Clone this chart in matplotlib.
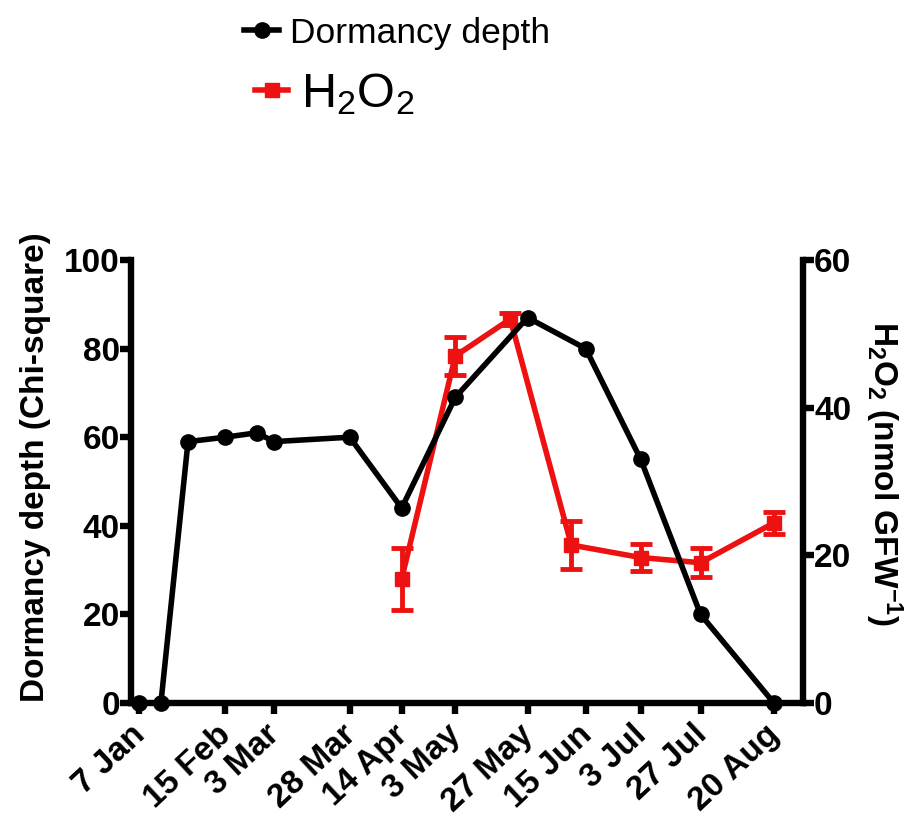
import matplotlib
matplotlib.use("Agg")
import matplotlib.pyplot as plt
from matplotlib.lines import Line2D
from matplotlib.transforms import ScaledTranslation

plt.rcParams['font.family'] = ['Liberation Sans', 'DejaVu Sans']
plt.rcParams['mathtext.default'] = 'regular'

# X axis positions (sampling date scale as drawn) and labels
tick_pos = [7, 37.6, 54.8, 81.7, 100.1, 119.1, 144.7, 165.3, 184.8, 206.0, 232]
tick_labels = ["7 Jan", "15 Feb", "3 Mar", "28 Mar", "14 Apr", "3 May",
               "27 May", "15 Jun", "3 Jul", "27 Jul", "20 Aug"]

# Dormancy depth (Chi-square)
dorm_x = [7, 14.8, 24.4, 37.6, 48.8, 54.8, 81.7, 100.1, 119.1, 144.7, 165.3, 184.8, 206.0, 232]
dorm_y = [0, 0, 59, 60, 61, 59, 60, 44, 69, 87, 80, 55, 20, 0]

# H2O2 (nmol GFW-1)
h2o2_x = [100.1, 119.1, 138.6, 160.2, 184.8, 206.0, 232]
h2o2_y = [16.8, 47.0, 52.0, 21.4, 19.7, 19.0, 24.4]
h2o2_err = [4.2, 2.6, 0.8, 3.2, 1.8, 2.0, 1.5]

red = '#ee1111'
lw_sp = 4.6
lw_line = 4.0

fig = plt.figure(figsize=(9.13, 8.16), dpi=100)
ax = fig.add_axes([131/913, 1-703/816, (803-131)/913, (703-260)/816])
ax2 = ax.twinx()

ax.plot(dorm_x, dorm_y, color='black', lw=lw_line, marker='o', ms=11, zorder=3,
        clip_on=False)
ax2.errorbar(h2o2_x, h2o2_y, yerr=h2o2_err, color=red, lw=lw_line, marker='s', ms=10,
             capsize=8, capthick=3.5, elinewidth=3.5, zorder=2, clip_on=False)

ax.set_zorder(ax2.get_zorder() + 1)
ax.patch.set_visible(False)

ax.set_xlim(4.2, 242.3)
ax.set_ylim(0, 100)
ax2.set_ylim(0, 60)
ax.set_yticks([0, 20, 40, 60, 80, 100])
ax2.set_yticks([0, 20, 40, 60])
ax.set_xticks(tick_pos)
ax.set_xticklabels(tick_labels, rotation=43, ha='right', rotation_mode='anchor')

for a in (ax, ax2):
    for s in a.spines.values():
        s.set_linewidth(lw_sp)
        s.set_capstyle('projecting')
    a.spines['top'].set_visible(False)
    a.tick_params(width=lw_sp, length=8, labelsize=24, pad=0)
    for lab in a.get_xticklabels() + a.get_yticklabels():
        lab.set_fontweight('bold')
ax.spines['right'].set_visible(False)
ax2.spines['left'].set_visible(False)
ax2.spines['bottom'].set_visible(False)

shift = ScaledTranslation(-0.09, -0.05, fig.dpi_scale_trans)
for lab in ax.get_xticklabels():
    lab.set_transform(lab.get_transform() + shift)

ax.set_ylabel("Dormancy depth (Chi-square)", fontsize=24, fontweight='bold')
ax.yaxis.set_label_coords(-0.119, 0.533)
ax2.set_ylabel("H$_2$O$_2$ (nmol GFW$^{-1}$)", fontsize=24, fontweight='bold',
               rotation=270, va='bottom')
ax2.yaxis.set_label_coords(1.089, 0.519)

h1 = Line2D([], [], color='black', lw=lw_line, marker='o', ms=11)
h2 = Line2D([], [], color=red, lw=lw_line, marker='s', ms=10)
leg1 = fig.legend([h1], ["Dormancy depth"], loc='center left',
                  bbox_to_anchor=(244/913, 1-33/816), frameon=False, fontsize=25.5,
                  handlelength=1.0, handletextpad=0.3, borderpad=0, borderaxespad=0)
leg2 = fig.legend([h2], ["H$_2$O$_2$"], loc='center left',
                  bbox_to_anchor=(255/913, 1-94/816), frameon=False, fontsize=35,
                  handlelength=0.68, handletextpad=0.27, borderpad=0, borderaxespad=0)

fig.savefig("out.png", dpi=100)
